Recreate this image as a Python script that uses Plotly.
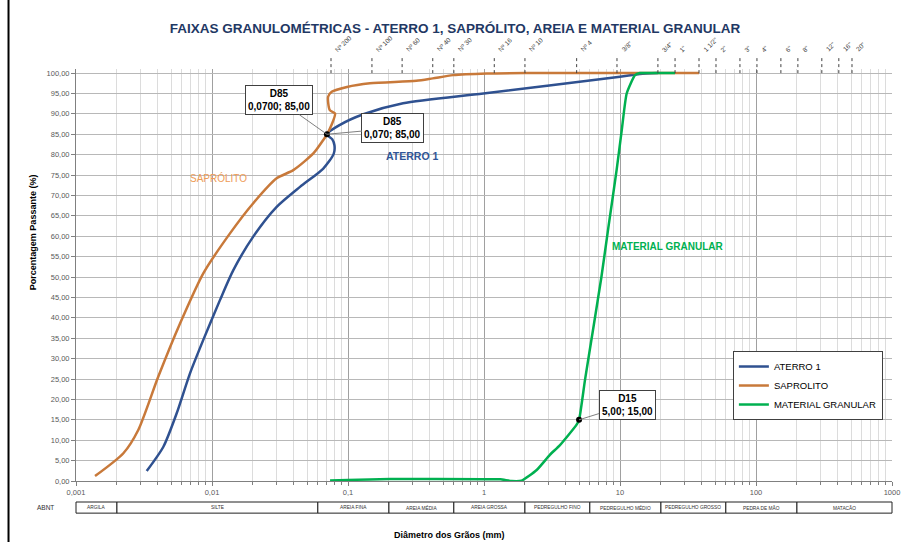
import math
import plotly.graph_objects as go

# ---------------- data ----------------
aterro_x = [0.00331, 0.00439, 0.0055, 0.00689, 0.00863, 0.01146, 0.01435, 0.0201, 0.0299, 0.0444,
            0.0658, 0.0785, 0.0795, 0.0765, 0.070, 0.0873, 0.1297, 0.254, 0.99, 10.0, 14.0, 19.0]
aterro_y = [2.45, 8.4, 16.6, 26.4, 34.6, 44.4, 51.7, 59.9, 67.2, 72.1,
            76.6, 80.2, 82.3, 83.8, 85.0, 87.3, 89.9, 92.6, 95.0, 99.1, 99.75, 100.0]

saprolito_x = [0.00138, 0.00223, 0.00287, 0.00403, 0.00582, 0.00863, 0.01356, 0.0201, 0.0299, 0.0396,
               0.0556, 0.0658, 0.070, 0.0759, 0.0803, 0.0735, 0.0714, 0.0759, 0.0982, 0.145, 0.318,
               0.42, 0.593, 1.05, 2.0, 4.8, 9.5, 19.0, 38.1]
saprolito_y = [1.2, 6.8, 12.5, 25.6, 38.6, 50.9, 60.7, 68.1, 74.2, 76.2,
               80.3, 83.6, 85.0, 87.4, 90.1, 90.9, 94.2, 95.4, 96.6, 97.5, 98.1,
               98.7, 99.5, 99.9, 100.0, 100.0, 100.0, 100.0, 100.0]

granular_x = [0.0738, 0.1, 0.204, 0.99, 1.32, 1.6, 1.89, 2.44, 3.05, 3.62, 4.77, 5.0, 5.53, 6.4,
              7.3, 8.2, 9.44, 10.3, 11.2, 12.9, 14.0, 19.0, 25.4]
granular_y = [0.1, 0.25, 0.5, 0.4, 0.4, 0.0, 0.1, 2.7, 6.4, 8.8, 13.7, 15.0, 24.8, 38.0,
              50.0, 62.0, 76.2, 86.0, 95.0, 99.5, 100.0, 100.0, 100.0]

sieve_labels = ["Nº 200", "Nº 100", "Nº 60", "Nº 40", "Nº 30", "Nº 16", "Nº 10", "Nº 4",
                '3/8"', '3/4"', '1"', '1 1/2"', '2"', '3"', '4"', '6"', '8"', '12"', '16"', '20"']
sieve_mm = [0.075, 0.15, 0.25, 0.42, 0.6, 1.19, 2.0, 4.8,
            9.5, 19.0, 25.4, 38.1, 50.8, 76.2, 101.6, 152.4, 203.2, 304.8, 406.4, 508.0]

abnt_names = ["ARGILA", "SILTE", "AREIA FINA", "AREIA MÉDIA", "AREIA GROSSA", "PEDREGULHO FINO",
              "PEDREGULHO MÉDIO", "PEDREGULHO GROSSO", "PEDRA DE MÃO", "MATACÃO"]
abnt_limits = [0.001, 0.002, 0.06, 0.2, 0.6, 2.0, 6.0, 20.0, 60.0, 200.0, 1000.0]

x_tickvals = [0.001, 0.01, 0.1, 1, 10, 100, 1000]
x_ticktext = ["0,001", "0,01", "0,1", "1", "10", "100", "1000"]

# ---------------- styling ----------------
FONT = "Liberation Sans, Arial, sans-serif"
BLUE = "#2F5190"
ORANGE = "#C8793A"
GREEN = "#00B050"
XMIN, XMAX = -3, 3


def xp(v):
    return (math.log10(v) - XMIN) / (XMAX - XMIN)


fig = go.Figure()
fig.add_trace(go.Scatter(x=aterro_x, y=aterro_y, mode="lines", name="ATERRO 1",
                         line=dict(color=BLUE, width=2.5, shape="spline", smoothing=0.7)))
fig.add_trace(go.Scatter(x=saprolito_x, y=saprolito_y, mode="lines", name="SAPROLITO",
                         line=dict(color=ORANGE, width=2.5, shape="spline", smoothing=0.7)))
fig.add_trace(go.Scatter(x=granular_x, y=granular_y, mode="lines", name="MATERIAL GRANULAR",
                         line=dict(color=GREEN, width=2.5, shape="spline", smoothing=0.5)))
fig.add_trace(go.Scatter(x=[0.070, 5.0], y=[85.0, 15.0], mode="markers", showlegend=False,
                         marker=dict(color="black", size=6), cliponaxis=False))

ann = []
shapes = []

# callouts
box = dict(showarrow=True, arrowhead=0, arrowwidth=1, arrowcolor="#7F7F7F",
           bordercolor="#404040", borderwidth=1, borderpad=2, bgcolor="white",
           font=dict(family=FONT, size=10, color="black"))
ann.append(dict(x=math.log10(0.070), y=85, xref="x", yref="y", ax=-48, ay=-34,
                text="<b>D85<br>0,0700; 85,00</b>", **box))
ann.append(dict(x=math.log10(0.070), y=85, xref="x", yref="y", ax=66, ay=-6,
                text="<b>D85<br>0,070; 85,00</b>", **box))
ann.append(dict(x=math.log10(5.0), y=15, xref="x", yref="y", ax=48, ay=-15,
                text="<b>D15<br>5,00; 15,00</b>", **box))

# series labels
ann.append(dict(x=math.log10(0.0111), y=74.3, xref="x", yref="y", showarrow=False, xanchor="center",
                text="SAPRÓLITO", font=dict(family=FONT, size=10, color="#EE9B55")))
ann.append(dict(x=math.log10(0.296), y=79.7, xref="x", yref="y", showarrow=False, xanchor="center",
                text="<b>ATERRO 1</b>", font=dict(family=FONT, size=10.5, color="#2F5597")))
ann.append(dict(x=math.log10(22.5), y=57.4, xref="x", yref="y", showarrow=False, xanchor="center",
                text="<b>MATERIAL GRANULAR</b>", font=dict(family=FONT, size=10, color=GREEN)))

# top sieve labels and dashed ticks
for lab, mm in zip(sieve_labels, sieve_mm):
    shapes.append(dict(type="line", xref="paper", yref="paper", x0=xp(mm), x1=xp(mm),
                       y0=0.990, y1=1.028, line=dict(color="#404040", width=1, dash="dot")))
    ann.append(dict(x=xp(mm), y=1.032, xref="paper", yref="paper", showarrow=False,
                    text=lab, textangle=-45, xanchor="left", yanchor="bottom",
                    font=dict(family=FONT, size=6.5, color="#404040")))

# ABNT row
y0, y1 = -0.051, -0.078
for i, name in enumerate(abnt_names):
    a, b = abnt_limits[i], abnt_limits[i + 1]
    shapes.append(dict(type="rect", xref="paper", yref="paper", x0=xp(a), x1=xp(b), y0=y1, y1=y0,
                       line=dict(color="#202020", width=1), fillcolor="white"))
    ann.append(dict(x=(xp(a) + xp(b)) / 2, y=(y0 + y1) / 2, xref="paper", yref="paper",
                    xanchor="center", yanchor="middle", showarrow=False, text=name,
                    font=dict(family=FONT, size=4.8, color="#303030")))
ann.append(dict(x=-0.0368, y=(y0 + y1) / 2, xref="paper", yref="paper", showarrow=False,
                xanchor="center", yanchor="middle",
                text="ABNT", font=dict(family=FONT, size=6.5, color="#303030")))

# axis titles
ann.append(dict(x=-0.0527, y=0.604, xref="paper", yref="paper", showarrow=False, textangle=-90,
                xanchor="center", yanchor="middle",
                text="<b>Porcentagem Passante (%)</b>", font=dict(family=FONT, size=9, color="black")))
ann.append(dict(x=0.458, y=-0.131, xref="paper", yref="paper", showarrow=False,
                xanchor="center", yanchor="middle",
                text="<b>Diâmetro dos Grãos (mm)</b>", font=dict(family=FONT, size=9, color="black")))

# left border
shapes.append(dict(type="line", xref="paper", yref="paper", x0=-0.0827, x1=-0.0827, y0=-0.2, y1=1.2,
                   line=dict(color="black", width=2)))

fig.update_layout(
    width=903, height=542,
    margin=dict(l=76, r=11, t=69, b=61, autoexpand=False),
    paper_bgcolor="white", plot_bgcolor="white",
    separators=", ",
    font=dict(family=FONT, size=8, color="#595959"),
    title=dict(text="<b>FAIXAS GRANULOMÉTRICAS - ATERRO 1, SAPRÓLITO, AREIA E MATERIAL GRANULAR</b>",
               x=0.504, xref="container", xanchor="center", y=1 - 28 / 542, yref="container",
               yanchor="middle", font=dict(family=FONT, size=13.5, color="#1F3864")),
    xaxis=dict(type="log", range=[XMIN, XMAX], tickmode="array", tickvals=x_tickvals, ticktext=x_ticktext,
               automargin=False,
               showgrid=True, gridcolor="#A0A0A0", gridwidth=1,
               minor=dict(dtick="D1", showgrid=True, gridcolor="#DCDCDC", ticks="outside", ticklen=3,
                          tickcolor="#808080"),
               ticks="outside", ticklen=4, tickcolor="#808080",
               showline=True, linecolor="#808080", linewidth=1, zeroline=False,
               tickfont=dict(family=FONT, size=7.5, color="#595959")),
    yaxis=dict(range=[0, 101], tickmode="linear", tick0=0, dtick=5, tickformat=".2f",
               automargin=False,
               showgrid=True, gridcolor="#B8B8B8", gridwidth=1,
               ticks="outside", ticklen=4, tickcolor="#808080",
               showline=True, linecolor="#808080", linewidth=1, zeroline=False,
               tickfont=dict(family=FONT, size=7.5, color="#595959")),
    legend=dict(x=0.805, y=0.3155, xanchor="left", yanchor="top", bgcolor="white",
                bordercolor="#404040", borderwidth=1, itemwidth=30,
                font=dict(family=FONT, size=9.5, color="black"), tracegroupgap=0),
    annotations=ann, shapes=shapes,
)

fig.write_html("out.html", config={"displayModeBar": False},
               post_script="document.body.style.margin='0';document.body.style.overflow='hidden';")
